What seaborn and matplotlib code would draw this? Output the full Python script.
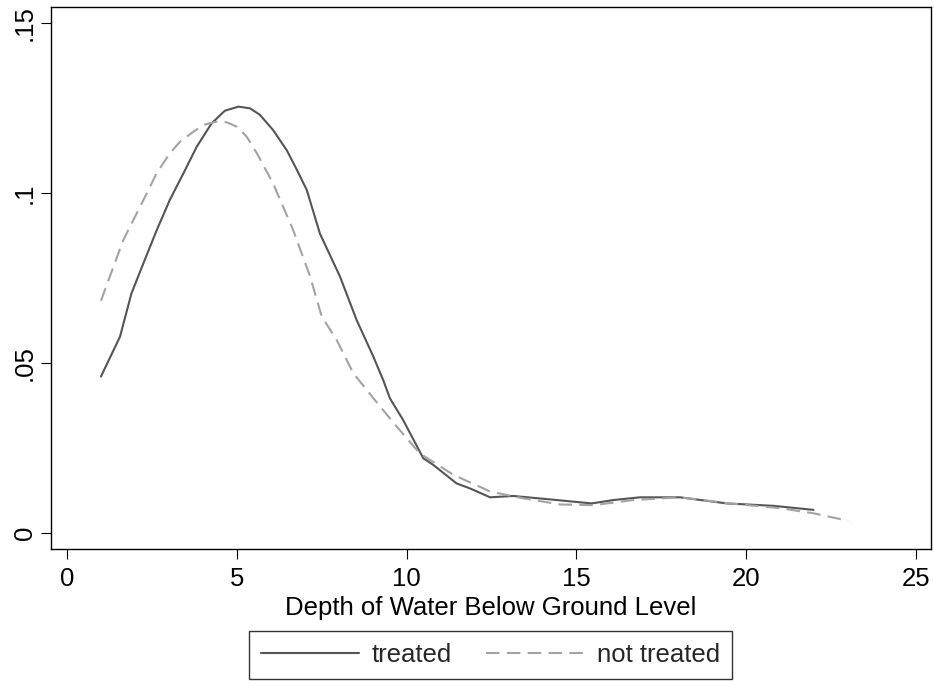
import pandas as pd
import matplotlib
matplotlib.use("Agg")
import matplotlib.pyplot as plt
import seaborn as sns

# kernel density estimates
treated_x = [1.0, 1.56, 1.9, 2.25, 2.64, 3.03, 3.43, 3.82, 4.26, 4.65, 5.05, 5.39,
             5.68, 6.07, 6.47, 6.77, 7.06, 7.45, 8.04, 8.53, 9.02, 9.31, 9.51, 9.9,
             10.49, 10.79, 11.47, 11.87, 12.46, 13.14, 14.42, 15.45, 16.09, 16.87,
             18.05, 19.43, 20.8, 21.98]
treated_y = [0.046, 0.0577, 0.0705, 0.0793, 0.089, 0.098, 0.1058, 0.1136, 0.1205,
             0.1242, 0.1254, 0.1249, 0.123, 0.1185, 0.1126, 0.1068, 0.1009, 0.088,
             0.0754, 0.0626, 0.0519, 0.045, 0.0396, 0.0332, 0.022, 0.020, 0.0146,
             0.0131, 0.0105, 0.0109, 0.0097, 0.0087, 0.0097, 0.0105, 0.0105, 0.0087,
             0.008, 0.0068]

control_x = [1.0, 1.66, 2.35, 2.64, 3.03, 3.33, 3.72, 4.01, 4.41, 4.7, 5.0, 5.29,
             5.59, 6.07, 6.66, 7.16, 7.5, 7.94, 8.43, 9.22, 9.71, 10.39, 11.38, 12.46,
             13.44, 14.52, 15.5, 16.68, 18.05, 19.52, 21.0, 21.98, 23.0]
control_y = [0.0683, 0.0862, 0.0999, 0.1058, 0.1117, 0.1151, 0.118, 0.120, 0.121,
             0.1208, 0.1195, 0.1166, 0.1117, 0.1028, 0.0891, 0.0754, 0.0637, 0.0568,
             0.047, 0.0372, 0.0313, 0.0234, 0.0171, 0.0122, 0.0102, 0.0084, 0.0082,
             0.0097, 0.0105, 0.0087, 0.0073, 0.0058, 0.0036]

groups = ["treated", "not treated"]
xticks = [0, 5, 10, 15, 20, 25]
yticks = [0, 0.05, 0.1, 0.15]
ytick_labels = ["0", ".05", ".1", ".15"]

df = pd.concat([
    pd.DataFrame({"depth": treated_x, "density": treated_y, "group": groups[0]}),
    pd.DataFrame({"depth": control_x, "density": control_y, "group": groups[1]}),
], ignore_index=True)

sns.set_theme(style="ticks")
plt.rcParams["font.family"] = ["Liberation Sans", "DejaVu Sans"]

fig = plt.figure(figsize=(9.34, 6.81), dpi=100)
ax = fig.add_axes([51 / 934, 132 / 681, 880 / 934, 542 / 681])

sns.lineplot(data=df, x="depth", y="density", hue="group", style="group",
             hue_order=groups, style_order=groups,
             palette={"treated": "#555555", "not treated": "#a3a3a3"},
             dashes={"treated": "", "not treated": (6.5, 3.5)},
             linewidth=1.5, sort=False, estimator=None, ax=ax)

ax.set_xlim(-0.47, 25.44)
ax.set_ylim(-0.0047, 0.1547)
ax.set_xticks(xticks)
ax.set_yticks(yticks, ytick_labels)
ax.tick_params(axis="both", length=7.2, width=0.8, color="black",
               labelsize=18.5, labelcolor="black", pad=3)
ax.tick_params(axis="x", pad=6)
for lab in ax.get_yticklabels():
    lab.set_rotation(90)
    lab.set_va("center")
for sp in ax.spines.values():
    sp.set_visible(True)
    sp.set_color("black")
    sp.set_linewidth(1.0)

ax.set_xlabel("Depth of Water Below Ground Level", fontsize=18.5, labelpad=3, color="black")
ax.set_ylabel("")

sns.move_legend(ax, "center", bbox_to_anchor=(490.5 / 934, 26 / 681),
                bbox_transform=fig.transFigure, ncol=2, title=None, frameon=True,
                fontsize=18.5, handlelength=3.8, columnspacing=1.35,
                handletextpad=0.5, borderpad=0.45, fancybox=False)
leg = ax.get_legend()
leg.get_frame().set_edgecolor("black")
leg.get_frame().set_linewidth(1.0)

fig.savefig("out.png", dpi=100)
